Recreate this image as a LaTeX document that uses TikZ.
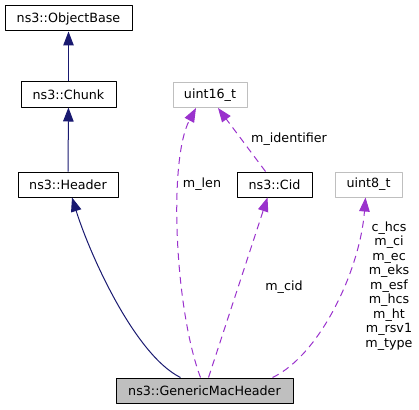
\documentclass[tikz,border=0pt]{standalone}
\usepackage{fontspec}
\setmainfont{DejaVu Sans}
\usetikzlibrary{arrows.meta}
\definecolor{inhblue}{HTML}{191970}
\definecolor{usepurple}{HTML}{9A32CD}
\definecolor{boxgray}{HTML}{BFBFBF}
\begin{document}
\begin{tikzpicture}[x=1pt,y=-1pt,line join=round,>={Triangle[length=14pt,width=10.5pt]},font=\fontsize{12.7}{14.5}\selectfont]
	\tikzset{cls/.style={draw=black,line width=1pt,minimum height=25pt,inner sep=0pt},
		ext/.style={cls,draw=boxgray},
		inh/.style={->,draw=inhblue,line width=1pt},
		use/.style={->,draw=usepurple,line width=1pt,dash pattern=on 7pt off 5pt}}
	\useasboundingbox (0,0) rectangle (419,409);
	% classes
	\node[cls,minimum width=127pt] (objbase) at (68.5,18.5) {ns3::ObjectBase};
	\node[cls,minimum width=95pt] (chunk) at (68.5,94.5) {ns3::Chunk};
	\node[cls,minimum width=100pt] (header) at (68,184.5) {ns3::Header};
	\node[ext,minimum width=74pt] (u16) at (210,95) {uint16\_t};
	\node[cls,minimum width=75pt] (cid) at (274.5,184.5) {ns3::Cid};
	\node[ext,minimum width=67pt] (u8) at (368.5,184.5) {uint8\_t};
	\node[cls,fill=boxgray,minimum width=177pt] (gmh) at (204.5,390.5) {ns3::GenericMacHeader};
	% inheritance
	\draw[inh] (chunk) -- (objbase);
	\draw[inh] (header) -- (chunk);
	\draw[inh] ([xshift=-24pt]gmh.north) .. controls (135,355) and (90,255) .. ([xshift=4pt]header.south);
	% members
	\draw[use] ([xshift=-4pt]gmh.north) .. controls (175,310) and (168,160) .. ([xshift=-14pt]u16.south);
	\draw[use] ([xshift=-9pt]cid.north) -- ([xshift=8pt]u16.south);
	\draw[use] ([xshift=4pt]gmh.north) -- ([xshift=-7pt]cid.south);
	\draw[use] ([xshift=68pt]gmh.north) .. controls (320,355) and (360,270) .. ([xshift=-3pt]u8.south);
	\node (lblen) at (202,184) {m\_len};
	\node (lbid) at (289,139) {m\_identifier};
	\node (lbcid) at (284,287) {m\_cid};
	\node[align=center,inner sep=0pt] (lbu8) at (389,286) {c\_hcs\\m\_ci\\m\_ec\\m\_eks\\m\_esf\\m\_hcs\\m\_ht\\m\_rsv1\\m\_type};
\end{tikzpicture}
\end{document}
